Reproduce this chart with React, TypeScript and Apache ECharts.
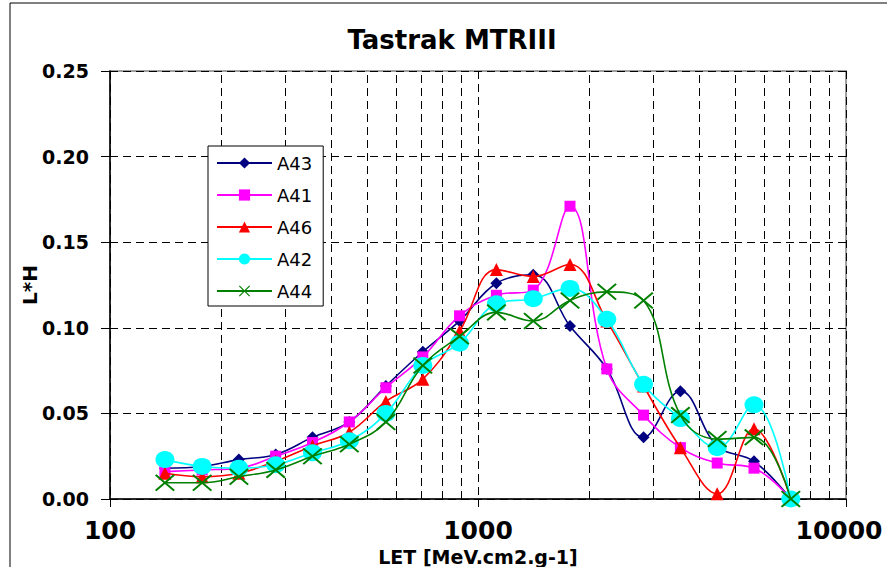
import React, { useEffect, useRef } from "react";
import * as echarts from "echarts";

const X_VALUES = [141, 178, 224, 282, 355, 447, 562, 708, 891, 1122, 1413, 1778, 2239, 2818, 3548, 4467, 5623, 7079];

const A43 = [0.018, 0.019, 0.023, 0.026, 0.036, 0.045, 0.066, 0.086, 0.104, 0.126, 0.131, 0.101, 0.076, 0.036, 0.063, 0.031, 0.022, 0.0];
const A41 = [0.016, 0.017, 0.018, 0.025, 0.033, 0.045, 0.065, 0.083, 0.107, 0.119, 0.122, 0.171, 0.076, 0.049, 0.030, 0.021, 0.018, 0.0];
const A46 = [0.015, 0.013, 0.015, 0.022, 0.031, 0.039, 0.057, 0.070, 0.098, 0.134, 0.130, 0.137, 0.104, 0.066, 0.030, 0.003, 0.041, 0.0];
const A42 = [0.023, 0.019, 0.018, 0.020, 0.027, 0.034, 0.050, 0.078, 0.091, 0.114, 0.117, 0.123, 0.105, 0.067, 0.047, 0.030, 0.055, 0.0];
const A44 = [0.0095, 0.0095, 0.013, 0.017, 0.025, 0.032, 0.045, 0.078, 0.095, 0.109, 0.104, 0.116, 0.121, 0.116, 0.049, 0.035, 0.036, 0.0];

const SERIES_NAMES = ["A43", "A41", "A46", "A42", "A44"];
const MINOR_GRID_X = [200, 300, 400, 500, 600, 700, 800, 900, 2000, 3000, 4000, 5000, 6000, 7000, 8000, 9000];
const X_MAX = 10000;

const TITLE = "Tastrak MTRIII";
const X_NAME = "LET [MeV.cm2.g-1]";
const Y_NAME = "L*H";

const CROSS =
  "path://M0,1.5 L1.5,0 L10,8.5 L18.5,0 L20,1.5 L11.5,10 L20,18.5 L18.5,20 L10,11.5 L1.5,20 L0,18.5 L8.5,10 Z";

const FONT = '"DejaVu Sans", "Liberation Sans", Arial, sans-serif';

export default function App() {
  const ref = useRef<HTMLDivElement>(null);

  useEffect(() => {
    if (!ref.current) return;
    const chart = echarts.init(ref.current, undefined, { renderer: "svg" });

    const pair = (vals: number[]) => X_VALUES.map((x, i) => [x, vals[i]]);

    const styles = [
      { color: "#000080", symbol: "diamond", size: 12 },
      { color: "#FF00FF", symbol: "rect", size: 11 },
      { color: "#FF0000", symbol: "triangle", size: 13 },
      { color: "#00FFFF", symbol: "circle", size: [19, 17] },
      { color: "#008000", symbol: CROSS, size: [20, 17] },
    ];
    const datasets = [A43, A41, A46, A42, A44];

    const series: any[] = datasets.map((vals, i) => ({
      name: SERIES_NAMES[i],
      type: "line",
      data: pair(vals),
      smooth: 0.4,
      symbol: styles[i].symbol,
      symbolSize: styles[i].size,
      showAllSymbol: true,
      lineStyle: { color: styles[i].color, width: 1.6 },
      itemStyle: { color: styles[i].color },
      z: 3 + i,
    }));

    series.push({
      name: "grid",
      type: "line",
      data: [],
      silent: true,
      z: 1,
      markLine: {
        silent: true,
        z: 1,
        symbol: ["none", "none"],
        label: { show: false },
        lineStyle: { color: "#000", type: [8, 5], width: 1 },
        data: MINOR_GRID_X.map((v) => ({ xAxis: v })),
      },
    });

    const labelFont = { fontFamily: FONT, fontWeight: "bold" as const, fontSize: 25, color: "#000" };

    chart.setOption({
      animation: false,
      backgroundColor: "#fff",
      textStyle: { fontFamily: FONT },
      grid: {
        left: 110,
        top: 71,
        right: 41,
        bottom: 68,
        containLabel: false,
        outerBoundsMode: "none",
        show: true,
        borderColor: "#a0a0a0",
        borderWidth: 2,
        backgroundColor: "transparent",
      },
      legend: {
        data: SERIES_NAMES,
        orient: "vertical",
        left: 208,
        top: 146,
        backgroundColor: "#fff",
        borderColor: "#000",
        borderWidth: 1,
        padding: [8, 11, 6, 8],
        itemWidth: 55,
        itemHeight: 14,
        itemGap: 14,
        textStyle: { fontFamily: FONT, fontSize: 18, color: "#000", lineHeight: 18 },
      },
      xAxis: {
        type: "log",
        logBase: 10,
        min: 100,
        max: X_MAX,
        name: X_NAME,
        nameLocation: "middle",
        nameGap: 48,
        nameMoveOverlap: false,
        nameTextStyle: {
          fontFamily: FONT,
          fontWeight: "bold",
          fontSize: 19,
          lineHeight: 20,
          color: "#000",
        },
        axisLine: { show: true, onZero: false, lineStyle: { color: "#000", width: 1.5 } },
        axisTick: { show: true, inside: false, length: 8, lineStyle: { color: "#000" } },
        axisLabel: {
          ...labelFont,
          margin: 19,
          hideOverlap: false,
          formatter: (v: number) =>
            Math.round(v) === X_MAX ? `{r|${Math.round(v)}}` : String(Math.round(v)),
          rich: { r: { ...labelFont, padding: [0, 14, 0, 0] } },
        },
        splitLine: { show: true, lineStyle: { color: "#000", type: [8, 5], width: 1 } },
        minorTick: { show: false },
        minorSplitLine: { show: false },
      },
      yAxis: {
        type: "value",
        min: 0,
        max: 0.25,
        interval: 0.05,
        name: Y_NAME,
        nameLocation: "middle",
        nameGap: 70,
        nameMoveOverlap: false,
        nameRotate: 90,
        nameTextStyle: { fontFamily: FONT, fontWeight: "bold", fontSize: 20, color: "#000" },
        axisLine: { show: true, lineStyle: { color: "#000", width: 1.5 } },
        axisTick: { show: true, inside: false, length: 9, lineStyle: { color: "#000" } },
        axisLabel: {
          fontFamily: FONT,
          fontWeight: "bold",
          fontSize: 19,
          color: "#000",
          margin: 21,
          formatter: (v: number) => v.toFixed(2),
        },
        splitLine: { show: true, lineStyle: { color: "#000", type: [8, 5], width: 1 } },
      },
      graphic: [
        {
          type: "rect",
          silent: true,
          z: -10,
          shape: { x: 10, y: 3, width: 900, height: 600 },
          style: { fill: "none", stroke: "#000", lineWidth: 1 },
        },
        {
          type: "text",
          x: 452,
          y: 40,
          style: {
            text: TITLE,
            font: `bold 26px ${FONT}`,
            fill: "#000",
            align: "center",
            verticalAlign: "middle",
            textAlign: "center",
            textVerticalAlign: "middle",
          },
        },
      ],
      series,
    });

    return () => chart.dispose();
  }, []);

  return (
    <div
      ref={ref}
      style={{ position: "fixed", left: 0, top: 0, width: 887, height: 567 }}
    />
  );
}
